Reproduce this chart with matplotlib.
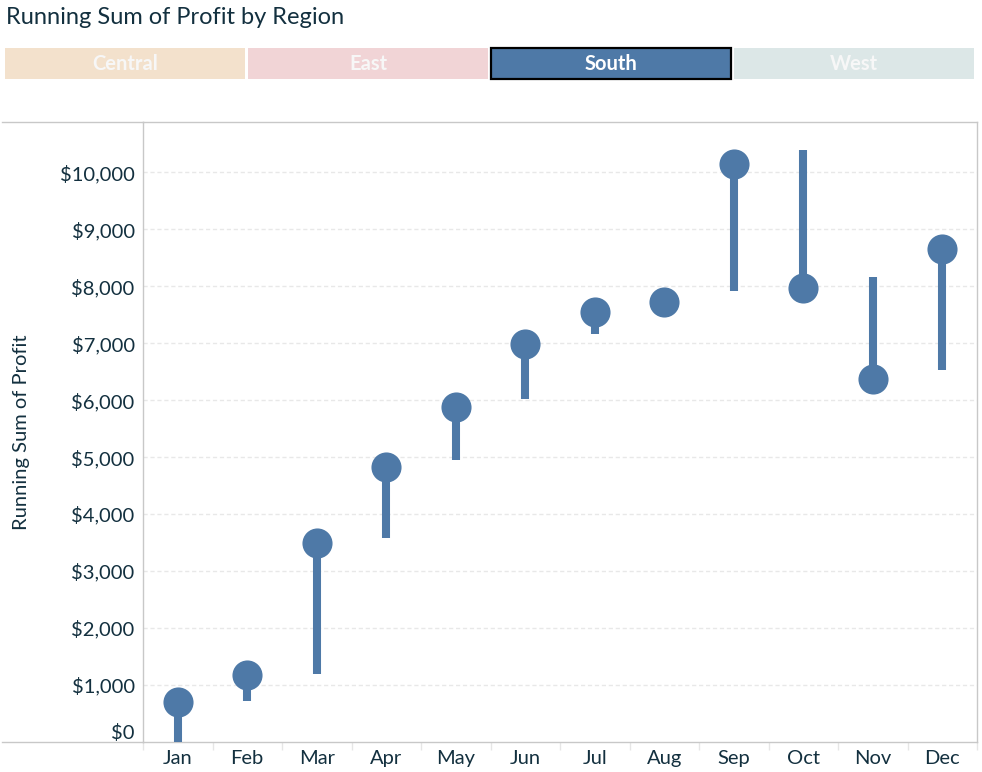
import matplotlib.pyplot as plt
from matplotlib.lines import Line2D
from matplotlib.patches import Rectangle
from matplotlib.ticker import FixedLocator, FuncFormatter

plt.rcParams['font.family'] = ['Lato', 'DejaVu Sans']

months = ['Jan', 'Feb', 'Mar', 'Apr', 'May', 'Jun', 'Jul', 'Aug', 'Sep', 'Oct', 'Nov', 'Dec']
# running sum (dot) and the other end of each bar
running_sum = [695, 1170, 3500, 4830, 5880, 6990, 7550, 7730, 10150, 7970, 6370, 8660]
bar_end = [0, 714, 1190, 3580, 4950, 6020, 7160, 7730, 7920, 10390, 8160, 6530]
y_ticks = [0, 1000, 2000, 3000, 4000, 5000, 6000, 7000, 8000, 9000, 10000]

regions = ['Central', 'East', 'South', 'West']
region_colors = ['#f3e1cc', '#f1d4d6', '#4e79a7', '#dce7e7']
selected = 'South'

blue = '#4e79a7'
text_col = '#13303f'
W, H = 982, 772

fig = plt.figure(figsize=(W / 100, H / 100), dpi=100)

# title
fig.text(6 / W, 1 - 17 / H, 'Running Sum of Profit by Region', fontsize=17,
         color=text_col, va='center', ha='left')

# region filter buttons
bx = [5, 248, 491, 734]
for x0, name, col in zip(bx, regions, region_colors):
    sel = name == selected
    r = Rectangle((x0 / W, 1 - 79 / H), 240 / W, 31 / H, transform=fig.transFigure,
                  facecolor=col, edgecolor='black' if sel else 'none',
                  linewidth=1.6 if sel else 0)
    fig.add_artist(r)
    fig.text((x0 + 120) / W, 1 - 63.5 / H, name, fontsize=14.5, fontweight='bold',
             color='white' if sel else '#f7f7f7', ha='center', va='center')

# plot area
left, right, top, bottom = 143, 977, 122, 742
ax = fig.add_axes([left / W, 1 - bottom / H, (right - left) / W, (bottom - top) / H])
x = list(range(len(months)))

ax.vlines(x, bar_end, running_sum, color=blue, linewidth=5.8, zorder=3)
ax.scatter(x, running_sum, s=470, color=blue, zorder=4, linewidths=0)

ax.set_xlim(-0.5, 11.5)
ax.set_ylim(0, 10880)
ax.yaxis.set_major_locator(FixedLocator(y_ticks))
ax.yaxis.set_major_formatter(FuncFormatter(lambda v, p: '${:,.0f}'.format(v)))
ax.set_xticks(x)
ax.set_xticklabels(months)
ax.set_xticks([i + 0.5 for i in range(-1, 12)], minor=True)
ax.tick_params(axis='x', which='major', length=0, pad=6, labelsize=14.5, labelcolor=text_col)
ax.tick_params(axis='x', which='minor', length=6, color='#e6e6e6', width=1)
ax.tick_params(axis='y', length=0, pad=6, labelsize=14.5, labelcolor=text_col)
ax.yaxis.get_major_ticks()[0].label1.set_verticalalignment('bottom')

for v in y_ticks[1:]:
    ax.axhline(v, color='#e8e8e8', linestyle=(0, (3, 2)), linewidth=1, zorder=1)

for s in ax.spines.values():
    s.set_color('#c8c8c8')
    s.set_linewidth(1)

ax.set_ylabel('Running Sum of Profit', fontsize=14.5, color=text_col)
ax.yaxis.set_label_coords(-113 / (right - left), 0.5)

# header/footer rules running into the label column
fig.add_artist(Line2D([2 / W, left / W], [1 - top / H] * 2, color='#c8c8c8', lw=1))
fig.add_artist(Line2D([2 / W, left / W], [1 - bottom / H] * 2, color='#c8c8c8', lw=1))

fig.savefig('out.png', dpi=100)
